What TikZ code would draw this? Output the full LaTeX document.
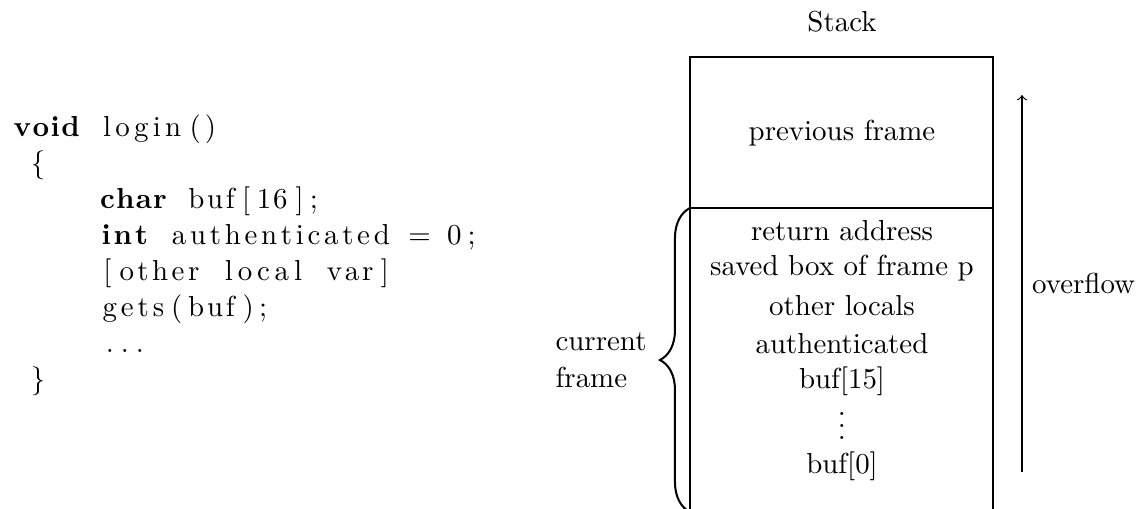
\documentclass[tikz,border=0pt]{standalone}
\usetikzlibrary{decorations.pathreplacing}
\makeatletter
\newcommand\tk[1]{{\count@=0 \@tfor\x:=#1\do{\advance\count@ by 1 }%
  \hbox to \dimexpr 6pt*\count@\relax{\hss\@tfor\x:=#1\do{\x\hss}}}}
\makeatother
\newcommand\sk{\kern6pt}
\newcommand\ind{\kern30pt}
\begin{document}
\begin{tikzpicture}[x=0.346pt,y=-0.346pt,
  code/.style={anchor=base west,inner sep=0pt},
  txt/.style={anchor=base,inner sep=0pt},
  stackbox/.style={line width=0.4pt},
  bracepath/.style={decorate,decoration={brace,amplitude=10.4pt},line width=0.7pt}]
\clip (0,0) rectangle (1145,508);
% code
\node[code] (c1) at (11.5,136) {{\bfseries\tk{void}}\sk\tk{login}\tk{()}};
\node[code] (c2) at (11.5,172) {\sk\tk{\{}};
\node[code] (c3) at (11.5,208) {\ind{\bfseries\tk{char}}\sk\tk{buf}\tk{[}\tk{16}\tk{];}};
\node[code] (c4) at (11.5,244) {\ind{\bfseries\tk{int}}\sk\tk{authenticated}\sk\tk{=}\sk\tk{0}\tk{;}};
\node[code] (c5) at (11.5,280) {\ind\tk{[}\tk{other}\sk\tk{local}\sk\tk{var}\tk{]}};
\node[code] (c6) at (11.5,316) {\ind\tk{gets}\tk{(}\tk{buf}\tk{);}};
\node[code] (c7) at (11.5,352) {\ind\tk{...}};
\node[code] (c8) at (11.5,388) {\sk\tk{\}}};
% stack
\node[txt] (title) at (842,31) {Stack};
\draw[stackbox] (690,530) -- (690,57) -- (993,57) -- (993,530);
\draw[stackbox] (690,208) -- (993,208);
\node[txt] (prev) at (842,140) {previous frame};
\node[txt] (ret) at (842,240) {return address};
\node[txt] (saved) at (842,275) {saved box of frame p};
\node[txt] (locals) at (842,315) {other locals};
\node[txt] (auth) at (842,353) {authenticated};
\node[txt] (b15) at (842,388) {buf[15]};
\node[txt] (dots) at (842,439) {$\vdots$};
\node[txt] (b0) at (842,473) {buf[0]};
% brace
\coordinate (bb) at (690,512);
\coordinate (bt) at (690,208);
\draw[bracepath] (bb) -- (bt);
\node[code] (cur1) at (555,350) {current};
\node[code] (cur2) at (555,387) {frame};
% overflow arrow
\coordinate (ab) at (1022,472);
\coordinate (at) at (1022,95);
\draw[->,line width=0.4pt] (ab) -- (at) node[midway,right] (ov) {overflow};
\end{tikzpicture}
\end{document}
